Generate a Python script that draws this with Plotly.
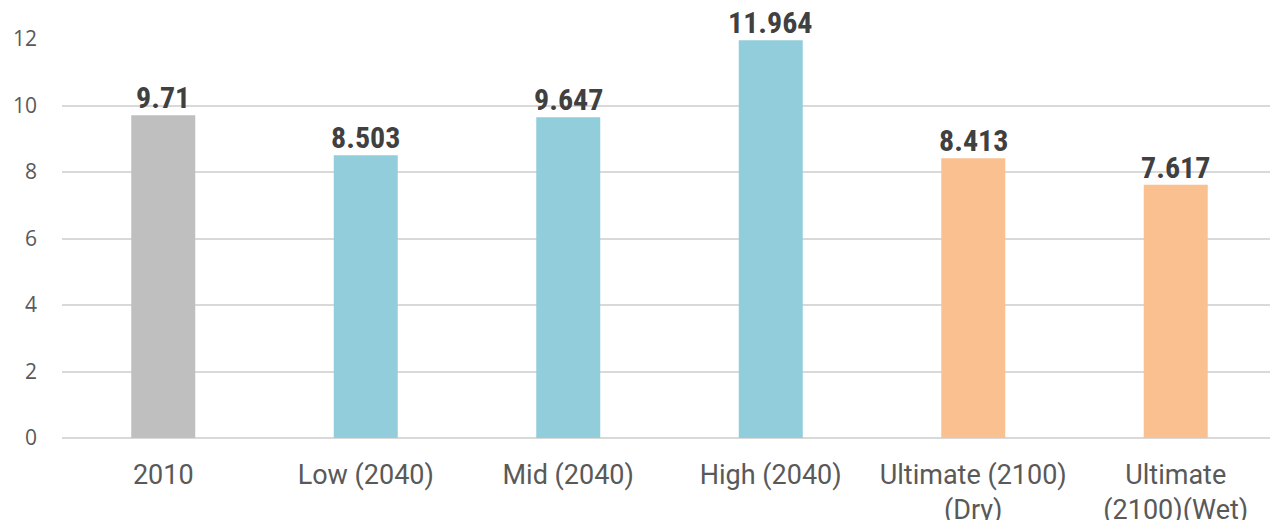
import plotly.graph_objects as go

categories = ["2010", "Low (2040)", "Mid (2040)", "High (2040)",
              "Ultimate (2100)<br>(Dry)", "Ultimate<br>(2100)(Wet)"]
values = [9.71, 8.503, 9.647, 11.964, 8.413, 7.617]
labels = ["9.71", "8.503", "9.647", "11.964", "8.413", "7.617"]
colors = ["#bfbfbf", "#92cddc", "#92cddc", "#92cddc", "#fac090", "#fac090"]
tick_vals = [0, 2, 4, 6, 8, 10, 12]

narrow = "Liberation Sans Narrow, Roboto Condensed, Arial Narrow, sans-serif"

fig = go.Figure(go.Bar(
    x=categories, y=values, marker=dict(color=colors, line=dict(width=0)),
    hoverinfo="skip",
))

for i, (v, t) in enumerate(zip(values, labels)):
    fig.add_annotation(
        x=i, y=v, text=t, showarrow=False, xanchor="center", yanchor="bottom",
        yshift=-1, borderpad=0,
        font=dict(family=narrow, size=30, color="#404040", weight="bold"),
    )

fig.update_layout(
    width=1278, height=520,
    margin=dict(l=54, r=9, t=31, b=90),
    paper_bgcolor="white", plot_bgcolor="white",
    bargap=0.684, showlegend=False,
    xaxis=dict(type="category", categoryorder="array", categoryarray=categories,
               range=[-0.5, len(categories) - 0.5], automargin=False,
               showgrid=False, showline=False, ticks="",
               tickfont=dict(family="Roboto", size=27, color="#595959"),
               ticklabelstandoff=18, fixedrange=True),
    yaxis=dict(range=[0, 12], tickvals=tick_vals, showgrid=True, automargin=False,
               gridcolor="#d9d9d9", gridwidth=1.5, zeroline=True,
               zerolinecolor="#d9d9d9", zerolinewidth=1.5, showline=False,
               ticks="", tickfont=dict(family="Open Sans", size=21, color="#595959"),
               ticklabelstandoff=24, fixedrange=True),
)

fig.write_html("out.html")
